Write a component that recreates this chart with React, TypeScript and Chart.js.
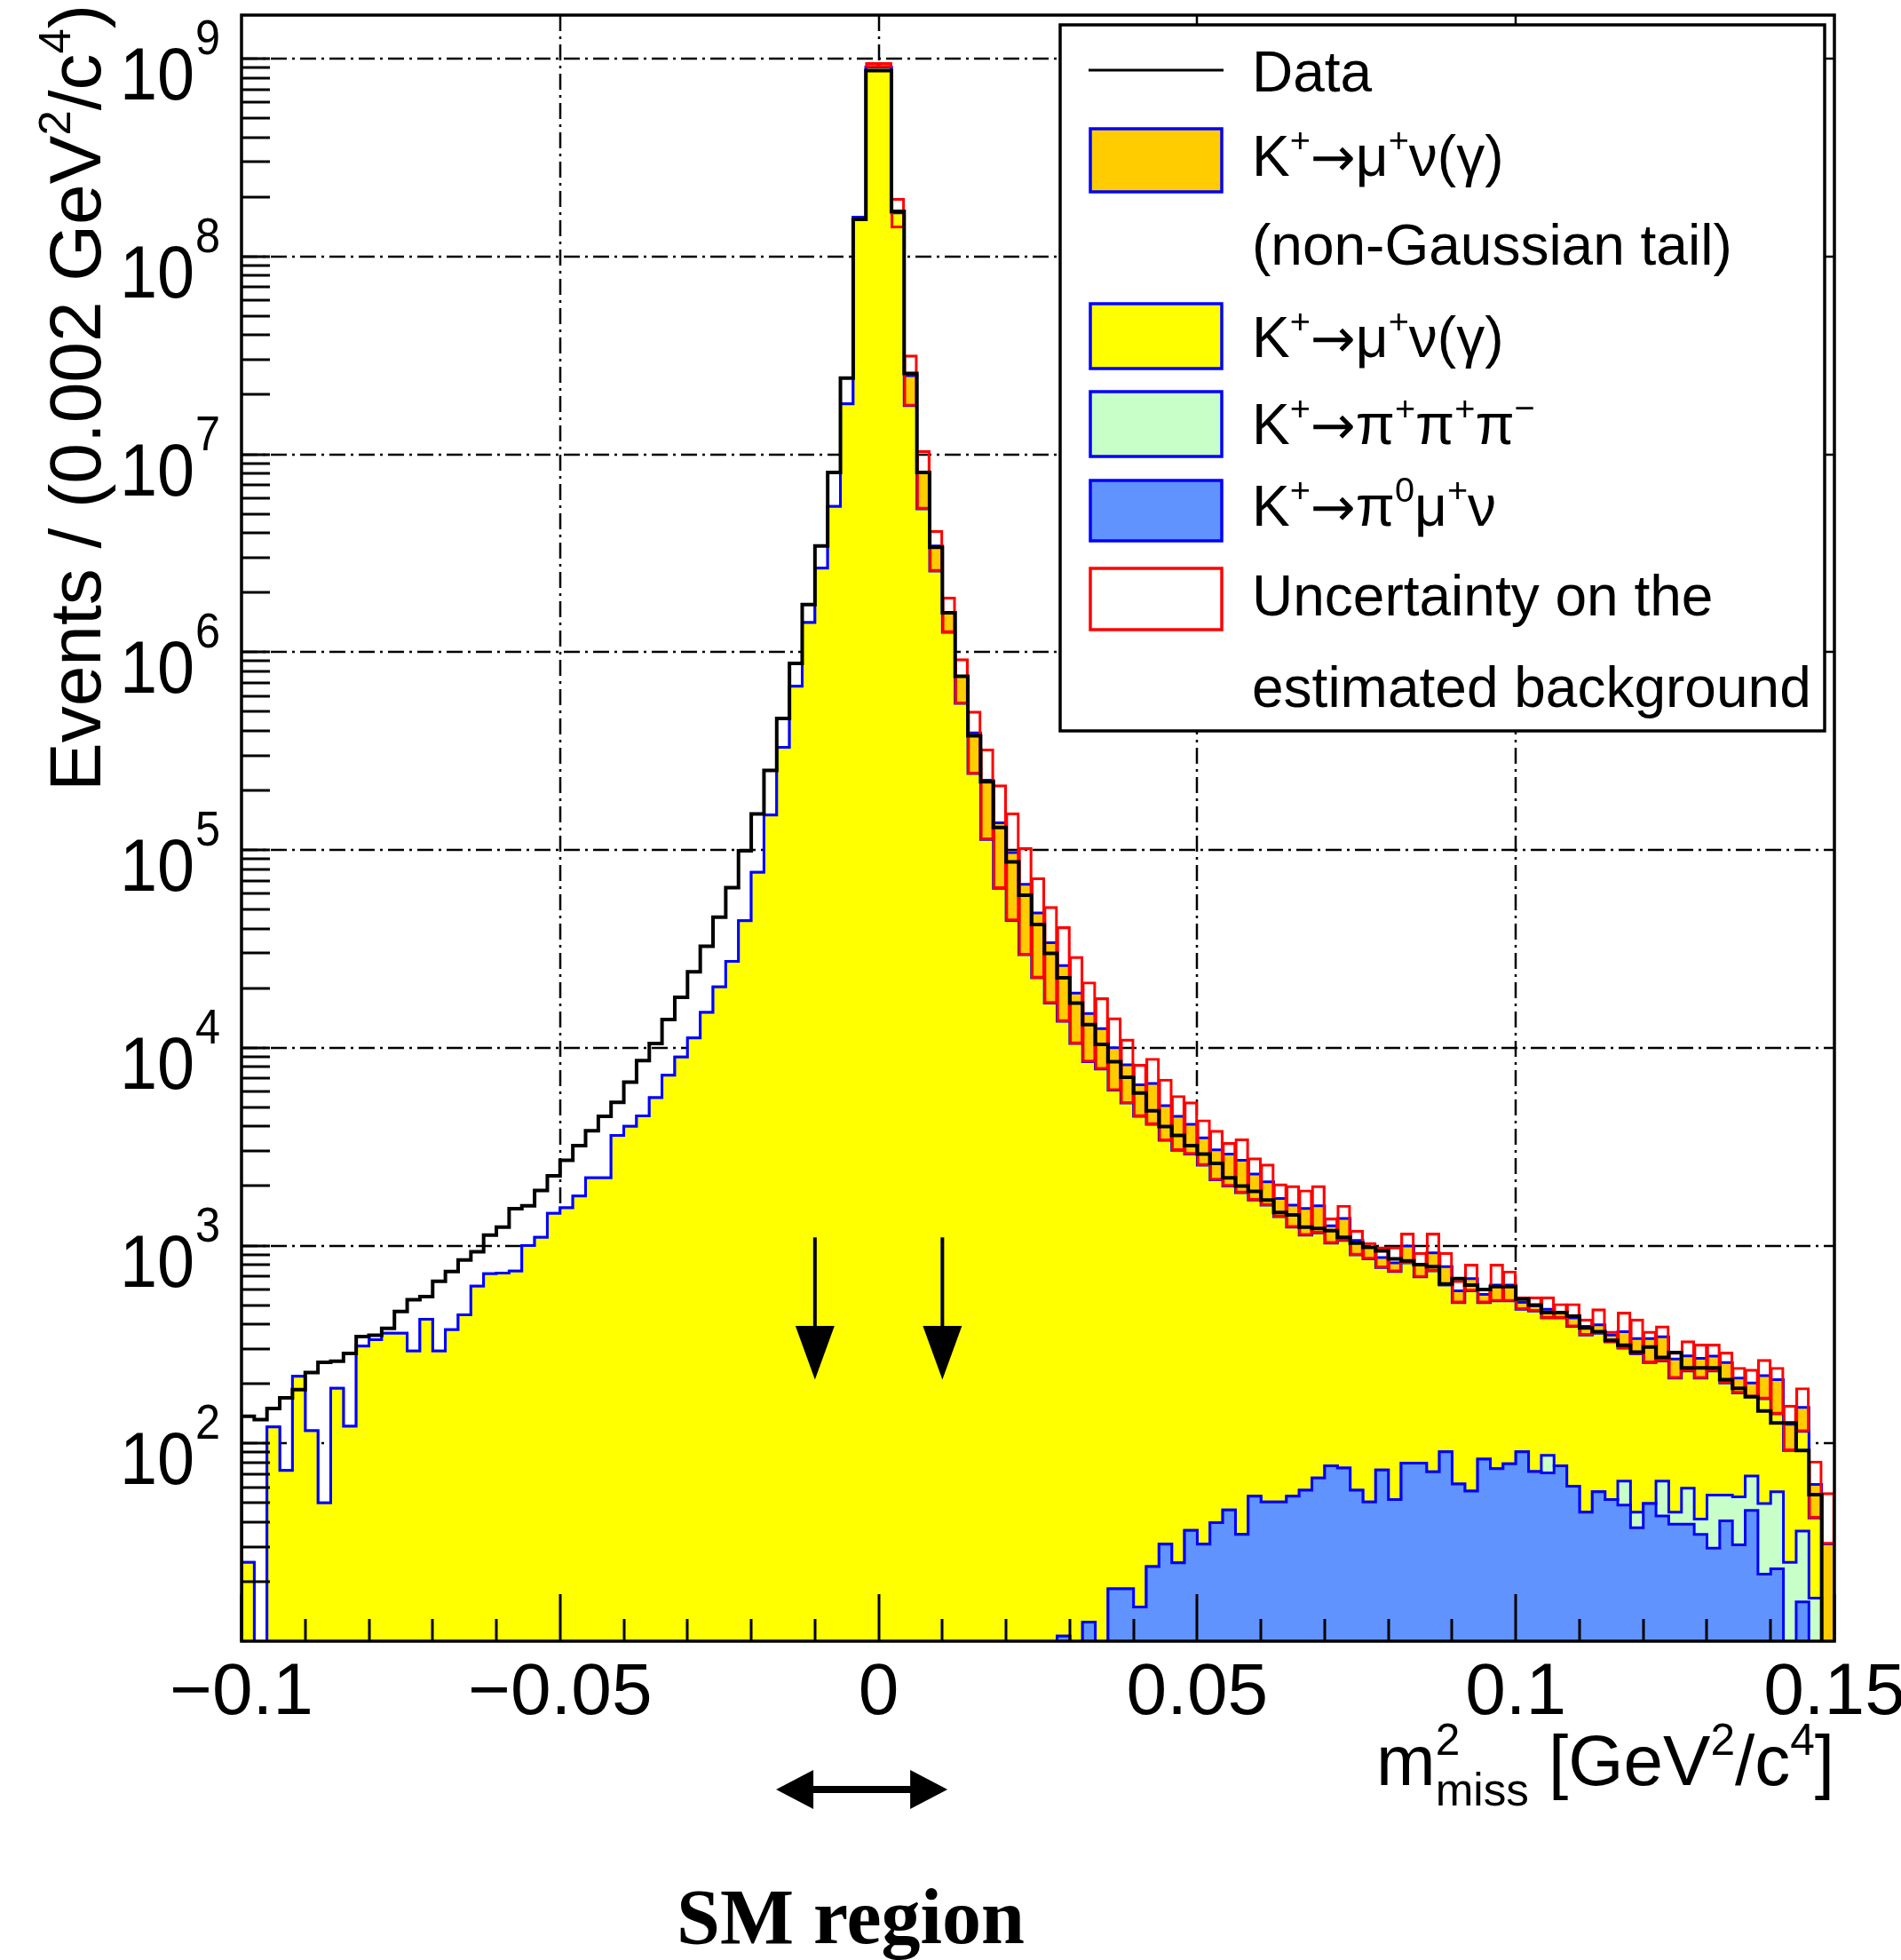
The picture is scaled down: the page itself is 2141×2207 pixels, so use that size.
import React, { useEffect, useRef } from 'react';
import { Chart, registerables } from 'chart.js';

Chart.register(...registerables);

// ---------------- axis definition ----------------
const X_MIN = -0.1;
const X_MAX = 0.15;
const BIN_WIDTH = 0.002;
const Y_MIN = 10;
const Y_MAX = 1.66e9;
const FLOOR = 1; // value used for empty bins (below the axis minimum)

const xTickValues = [-0.1, -0.05, 0, 0.05, 0.1, 0.15];
const xTickLabels = ['\u22120.1', '\u22120.05', '0', '0.05', '0.1', '0.15'];
const xGridValues = [-0.05, 0, 0.05, 0.1];
const yDecades = [2, 3, 4, 5, 6, 7, 8, 9];

// ---------------- histogram contents (125 bins of 0.002 GeV^2/c^4) ----------------
const dataCounts = [
  137, 132, 150, 170, 187, 228, 257, 260, 285, 347,
  352, 381, 464, 533, 552, 660, 740, 846, 930, 1130,
  1240, 1535, 1590, 1900, 2250, 2700, 3200, 3800, 4500, 5300,
  6700, 8600, 10500, 13900, 18000, 24200, 32600, 45700, 64500, 99000,
  152000, 252000, 462000, 877000, 1.74e6, 3.44e6, 8.1e6, 2.43e7, 1.54e8, 8.7e8,
  8.7e8, 1.69e8, 2.56e7, 8.1e6, 3.39e6, 1.58e6, 7.55e5, 3.78e5, 2.21e5, 1.3e5,
  8.7e4, 5.9e4, 4.2e4, 3.0e4, 2.26e4, 1.68e4, 1.31e4, 1.04e4, 8500, 7100,
  5900, 4800, 4000, 3600, 3200, 2900, 2600, 2200, 2000, 1880,
  1700, 1470, 1430, 1240, 1220, 1190, 1100, 1030, 980, 940,
  857, 837, 800, 782, 640, 680, 631, 600, 620, 620,
  537, 500, 458, 458, 440, 383, 367, 332, 313, 289,
  307, 272, 288, 241, 241, 241, 210, 190, 172, 146,
  127, 127, 92, 55, 0,
];

// total of all simulated contributions (top of the stack)
const mcTotal = [
  25, 0, 121, 73, 218, 116, 50, 190, 122, 310,
  334, 360, 360, 293, 424, 293, 376, 447, 623, 720,
  725, 743, 1000, 1100, 1455, 1550, 1780, 2200, 2200, 3600,
  4010, 4520, 5590, 7250, 8970, 11200, 15100, 20300, 27300, 43900,
  77000, 150000, 330000, 672000, 1.41e6, 2.66e6, 5.45e6, 1.8e7, 1.58e8, 9.06e8,
  9.06e8, 1.66e8, 2.5e7, 8.1e6, 3.44e6, 1.58e6, 7.55e5, 3.9e5, 2.25e5, 1.37e5,
  9.7e4, 6.7e4, 4.8e4, 3.4e4, 2.6e4, 1.89e4, 1.49e4, 1.25e4, 1.0e4, 8200,
  6500, 6600, 5100, 4500, 4100, 3500, 3050, 2900, 2700, 2300,
  2100, 1730, 1600, 1540, 1590, 1260, 1370, 1060, 980, 870,
  818, 995, 800, 918, 782, 590, 680, 567, 631, 631,
  516, 497, 476, 458, 431, 390, 398, 353, 367, 339,
  339, 346, 267, 277, 269, 276, 256, 214, 202, 220,
  210, 125, 152, 62, 31,
];

// stack without the non-Gaussian tail (top of the yellow K -> mu nu area)
const mcNoTail = [
  25, 0, 121, 73, 218, 116, 50, 190, 122, 310,
  334, 360, 360, 293, 424, 293, 376, 447, 623, 720,
  725, 743, 1000, 1100, 1455, 1550, 1780, 2200, 2200, 3600,
  4010, 4520, 5590, 7250, 8970, 11200, 15100, 20300, 27300, 43900,
  77000, 150000, 330000, 672000, 1.41e6, 2.66e6, 5.45e6, 1.8e7, 1.58e8, 9.06e8,
  9.06e8, 1.66e8, 1.76e7, 5.3e6, 2.57e6, 1.26e6, 5.5e5, 2.43e5, 1.13e5, 6.4e4,
  4.4e4, 2.95e4, 2.26e4, 1.68e4, 1.36e4, 1.05e4, 8500, 7800, 6100, 5250,
  4500, 4100, 3400, 3030, 2900, 2550, 2150, 2000, 1850, 1700,
  1600, 1400, 1240, 1130, 1160, 1030, 1060, 898, 857, 774,
  740, 818, 694, 745, 631, 515, 590, 515, 525, 525,
  476, 467, 431, 431, 390, 353, 360, 326, 303, 283,
  256, 261, 214, 232, 214, 232, 202, 180, 172, 168,
  141, 92, 115, 42, 0,
];

// K+ -> pi0 mu+ nu
const kmu3 = [
  0, 0, 0, 0, 0, 0, 0, 0, 0, 0,
  0, 0, 0, 0, 0, 0, 0, 0, 0, 0,
  0, 0, 0, 0, 0, 0, 0, 0, 0, 0,
  0, 0, 0, 0, 0, 0, 0, 0, 0, 0,
  0, 0, 0, 0, 0, 0, 0, 0, 0, 0,
  0, 0, 0, 0, 0, 0, 0, 0, 0, 0,
  0, 0, 0, 0, 10.6, 0, 12.5, 0, 18.4, 18.4,
  14.9, 23.8, 30.9, 24.9, 36.3, 30.9, 39.8, 46, 34.7, 54,
  50.5, 50.5, 54, 58, 66.8, 77, 75, 58, 50.5, 73.4,
  52, 79.5, 79.5, 71.8, 90.7, 62.4, 57.3, 83.3, 74.5, 78.8,
  90.7, 72, 71, 77, 60.7, 44.9, 57, 52, 48.7, 37.5,
  49.6, 43, 39, 39, 34.7, 29.5, 40.6, 30.7, 45.8, 21.8,
  23.2, 0, 15.8, 0, 0,
];

// K+ -> pi+ pi+ pi-
const k3pi = [
  0, 0, 0, 0, 0, 0, 0, 0, 0, 0,
  0, 0, 0, 0, 0, 0, 0, 0, 0, 0,
  0, 0, 0, 0, 0, 0, 0, 0, 0, 0,
  0, 0, 0, 0, 0, 0, 0, 0, 0, 0,
  0, 0, 0, 0, 0, 0, 0, 0, 0, 0,
  0, 0, 0, 0, 0, 0, 0, 0, 0, 0,
  0, 0, 0, 0, 0, 0, 0, 0, 0, 0,
  0, 0, 0, 0, 0, 0, 0, 0, 0, 0,
  0, 0, 0, 0, 0, 0, 0, 0, 0, 0,
  0, 0, 0, 0, 0, 0, 0, 0, 0, 0,
  0, 0, 16, 0, 0, 0, 0, 0, 15.7, 7.4,
  0, 21.4, 5.9, 20.4, 6.7, 25.3, 14.2, 23, 22.6, 27.9,
  33.8, 25, 20.2, 16.5, 0,
];

// uncertainty band on the estimated background (null = not drawn)
const uncHigh = [
  null, null, null, null, null, null, null, null, null, null,
  null, null, null, null, null, null, null, null, null, null,
  null, null, null, null, null, null, null, null, null, null,
  null, null, null, null, null, null, null, null, null, null,
  null, null, null, null, null, null, null, null, null, 9.5e8,
  9.5e8, 1.96e8, 3.16e7, 1.04e7, 4.1e6, 1.89e6, 9.2e5, 5.0e5, 3.22e5, 2.12e5,
  1.53e5, 1.02e5, 7.2e4, 5.15e4, 4.07e4, 2.88e4, 2.14e4, 1.78e4, 1.41e4, 1.1e4,
  8200, 8800, 6900, 5700, 5300, 4300, 3800, 3300, 3450, 2760,
  2570, 2040, 2000, 1900, 2000, 1370, 1590, 1190, 1030, 980,
  980, 1150, 918, 1150, 918, 662, 800, 605, 800, 740,
  548, 548, 548, 506, 506, 423, 476, 367, 458, 423,
  367, 390, 288, 328, 316, 316, 288, 241, 236, 264,
  241, 155, 190, 81, 56,
];
const uncLow = [
  null, null, null, null, null, null, null, null, null, null,
  null, null, null, null, null, null, null, null, null, null,
  null, null, null, null, null, null, null, null, null, null,
  null, null, null, null, null, null, null, null, null, null,
  null, null, null, null, null, null, null, null, null, 9.06e8,
  9.06e8, 1.4e8, 1.76e7, 5.3e6, 2.57e6, 1.26e6, 5.5e5, 2.43e5, 1.13e5, 6.4e4,
  4.4e4, 2.95e4, 2.26e4, 1.68e4, 1.36e4, 1.05e4, 8500, 7800, 6100, 5250,
  4500, 4100, 3400, 3030, 2900, 2550, 2150, 2000, 1850, 1700,
  1600, 1400, 1240, 1130, 1160, 1030, 1060, 898, 857, 774,
  740, 818, 694, 745, 631, 515, 590, 515, 525, 525,
  476, 467, 431, 431, 390, 353, 360, 326, 303, 283,
  256, 261, 214, 232, 214, 232, 202, 180, 172, 168,
  141, 92, 115, 42, 31,
];

// annotations (in data units)
const smArrowX = [-0.01, 0.01];
const smArrowTop = 1100;
const smArrowHeadBase = 392;
const smArrowTip = 210;
const smRange = [-0.0161, 0.0108];

// ---------------- colours ----------------
const COL_TAIL = '#ffcc00';
const COL_KMU2 = '#ffff00';
const COL_K3PI = '#c8ffc8';
const COL_KMU3 = '#6193ff';
const COL_OUTLINE = '#0000ff';
const COL_UNC = '#ff0000';

const SANS = "'Liberation Sans', Arial, Helvetica, sans-serif";
const ARROWFONT = "'DejaVu Sans', 'Liberation Sans', sans-serif";
const SERIF = "'Liberation Serif', 'Times New Roman', serif";

type Part = { t: string; k?: 'sup' | 'sub'; adv?: boolean; f?: string; s?: number };

const ARROW: Part = { t: '\u2192', f: ARROWFONT, s: 0.95 };

const legendRows: { parts: Part[]; baseline: number }[] = [
  { parts: [{ t: 'Data' }], baseline: 103 },
  { parts: [{ t: 'K' }, { t: '+', k: 'sup' }, ARROW, { t: '\u03bc' }, { t: '+', k: 'sup' }, { t: '\u03bd(\u03b3)' }], baseline: 198 },
  { parts: [{ t: '(non-Gaussian tail)' }], baseline: 298 },
  { parts: [{ t: 'K' }, { t: '+', k: 'sup' }, ARROW, { t: '\u03bc' }, { t: '+', k: 'sup' }, { t: '\u03bd(\u03b3)' }], baseline: 402 },
  { parts: [{ t: 'K' }, { t: '+', k: 'sup' }, ARROW, { t: '\u03c0' }, { t: '+', k: 'sup' }, { t: '\u03c0' }, { t: '+', k: 'sup' }, { t: '\u03c0' }, { t: '\u2212', k: 'sup' }], baseline: 500 },
  { parts: [{ t: 'K' }, { t: '+', k: 'sup' }, ARROW, { t: '\u03c0' }, { t: '0', k: 'sup' }, { t: '\u03bc' }, { t: '+', k: 'sup' }, { t: '\u03bd' }], baseline: 592 },
  { parts: [{ t: 'Uncertainty on the' }], baseline: 693 },
  { parts: [{ t: 'estimated background' }], baseline: 796 },
];
const legendSwatches = [
  { top: 145, bottom: 216, fill: COL_TAIL, stroke: COL_OUTLINE },
  { top: 342, bottom: 415, fill: COL_KMU2, stroke: COL_OUTLINE },
  { top: 441, bottom: 514, fill: COL_K3PI, stroke: COL_OUTLINE },
  { top: 541, bottom: 609, fill: COL_KMU3, stroke: COL_OUTLINE },
  { top: 640, bottom: 709, fill: '#ffffff', stroke: COL_UNC },
];

const yTitle: Part[] = [{ t: 'Events / (0.002 GeV' }, { t: '2', k: 'sup' }, { t: '/c' }, { t: '4', k: 'sup' }, { t: ')' }];
const xTitle: Part[] = [
  { t: 'm' }, { t: '2', k: 'sup', adv: false }, { t: 'miss', k: 'sub' },
  { t: ' [GeV' }, { t: '2', k: 'sup' }, { t: '/c' }, { t: '4', k: 'sup' }, { t: ']' },
];

// ---------------- helpers ----------------
const N_BINS = dataCounts.length;
const binEdges = Array.from({ length: N_BINS + 1 }, (_, i) => X_MIN + i * BIN_WIDTH);

function stepPoints(values: number[]) {
  const pts: { x: number; y: number }[] = [{ x: binEdges[0], y: FLOOR }];
  values.forEach((v, i) => pts.push({ x: binEdges[i], y: v > 0 ? v : FLOOR }));
  const last = values[values.length - 1];
  pts.push({ x: binEdges[values.length], y: last > 0 ? last : FLOOR });
  pts.push({ x: binEdges[values.length], y: FLOOR });
  return pts;
}

function partSize(p: Part, size: number) {
  const base = p.k === 'sup' ? size * 0.62 : p.k === 'sub' ? size * 0.64 : size;
  return base * (p.s || 1);
}
function partDy(p: Part, size: number) {
  return p.k === 'sup' ? -size * 0.42 : p.k === 'sub' ? size * 0.29 : 0;
}
function measureParts(ctx: CanvasRenderingContext2D, parts: Part[], size: number, family: string) {
  let w = 0;
  for (const p of parts) {
    ctx.font = `${partSize(p, size)}px ${p.f || family}`;
    if (p.adv !== false) w += ctx.measureText(p.t).width;
  }
  return w;
}
function drawParts(ctx: CanvasRenderingContext2D, parts: Part[], x: number, y: number, size: number, family: string, align: 'left' | 'right' | 'center') {
  const total = measureParts(ctx, parts, size, family);
  let cx = align === 'right' ? x - total : align === 'center' ? x - total / 2 : x;
  ctx.textAlign = 'left';
  ctx.textBaseline = 'alphabetic';
  for (const p of parts) {
    ctx.font = `${partSize(p, size)}px ${p.f || family}`;
    ctx.fillText(p.t, cx, y + partDy(p, size));
    if (p.adv !== false) cx += ctx.measureText(p.t).width;
  }
}

const rootStyle = {
  id: 'rootStyle',
  beforeDraw(chart: any) {
    const ctx = chart.ctx;
    ctx.save();
    ctx.fillStyle = '#ffffff';
    ctx.fillRect(0, 0, chart.width, chart.height);
    ctx.restore();
  },
  beforeDatasetsDraw(chart: any) {
    const { ctx, chartArea: a } = chart;
    const xs = chart.scales.x;
    const ys = chart.scales.y;
    ctx.save();
    ctx.beginPath();
    ctx.rect(a.left, a.top, a.right - a.left, a.bottom - a.top);
    ctx.clip();
    ctx.setLineDash([18, 6, 3, 6]);
    ctx.lineWidth = 2.5;
    ctx.strokeStyle = '#000';
    ctx.beginPath();
    for (const n of yDecades) {
      const y = Math.round(ys.getPixelForValue(Math.pow(10, n)));
      ctx.moveTo(a.left, y);
      ctx.lineTo(a.right, y);
    }
    for (const v of xGridValues) {
      const x = Math.round(xs.getPixelForValue(v));
      ctx.moveTo(x, a.top);
      ctx.lineTo(x, a.bottom);
    }
    ctx.stroke();
    ctx.restore();
  },
  afterDatasetsDraw(chart: any) {
    const { ctx, chartArea: a } = chart;
    const xs = chart.scales.x;
    const ys = chart.scales.y;
    ctx.save();
    ctx.fillStyle = '#000';
    ctx.strokeStyle = '#000';

    // signal-region arrows
    for (const v of smArrowX) {
      const px = xs.getPixelForValue(v);
      const y0 = ys.getPixelForValue(smArrowTop);
      const y1 = ys.getPixelForValue(smArrowHeadBase);
      const y2 = ys.getPixelForValue(smArrowTip);
      ctx.lineWidth = 4;
      ctx.beginPath();
      ctx.moveTo(px, y0);
      ctx.lineTo(px, y1 + 2);
      ctx.stroke();
      ctx.beginPath();
      ctx.moveTo(px - 22, y1);
      ctx.lineTo(px + 22, y1);
      ctx.lineTo(px, y2);
      ctx.closePath();
      ctx.fill();
    }

    // frame
    ctx.lineWidth = 3.5;
    ctx.strokeRect(a.left, a.top, a.right - a.left, a.bottom - a.top);

    // x ticks
    ctx.lineWidth = 3;
    ctx.beginPath();
    for (let k = -10; k <= 15; k++) {
      const px = Math.round(xs.getPixelForValue(k / 100));
      const len = k % 5 === 0 ? 53 : 25;
      ctx.moveTo(px, a.bottom);
      ctx.lineTo(px, a.bottom - len);
    }
    // y ticks
    for (let n = 1; n <= 9; n++) {
      for (let m = 1; m <= 9; m++) {
        const v = m * Math.pow(10, n);
        if (v <= Y_MIN * 1.01 || v >= Y_MAX) continue;
        const py = Math.round(ys.getPixelForValue(v));
        ctx.moveTo(a.left, py);
        ctx.lineTo(a.left + 32, py);
      }
    }
    ctx.stroke();

    // x tick labels
    ctx.font = `82px ${SANS}`;
    ctx.textAlign = 'center';
    ctx.textBaseline = 'alphabetic';
    xTickValues.forEach((v, i) => {
      ctx.fillText(xTickLabels[i], xs.getPixelForValue(v), 1930);
    });

    // y tick labels: 10^n
    for (const n of yDecades) {
      const py = ys.getPixelForValue(Math.pow(10, n));
      ctx.save();
      ctx.translate(248, py);
      ctx.scale(0.9, 1);
      ctx.textAlign = 'right';
      ctx.font = `56px ${SANS}`;
      const exp = String(n);
      const we = ctx.measureText(exp).width;
      ctx.fillText(exp, 0, -5);
      ctx.font = `84px ${SANS}`;
      ctx.fillText('10', -we - 1, 46);
      ctx.restore();
    }

    // axis titles
    drawParts(ctx, xTitle, a.right, 2010, 80, SANS, 'right');
    ctx.save();
    ctx.translate(113, 891);
    ctx.rotate(-Math.PI / 2);
    drawParts(ctx, yTitle, 0, 0, 82, SANS, 'left');
    ctx.restore();

    // legend
    const L = { left: 1194, top: 28, right: 2055, bottom: 823 };
    ctx.fillStyle = '#ffffff';
    ctx.fillRect(L.left, L.top, L.right - L.left, L.bottom - L.top);
    ctx.lineWidth = 3.5;
    ctx.strokeStyle = '#000';
    ctx.strokeRect(L.left, L.top, L.right - L.left, L.bottom - L.top);
    ctx.lineWidth = 3;
    ctx.beginPath();
    ctx.moveTo(1226, 79);
    ctx.lineTo(1378, 79);
    ctx.stroke();
    for (const s of legendSwatches) {
      ctx.fillStyle = s.fill;
      ctx.fillRect(1228, s.top, 148, s.bottom - s.top);
      ctx.strokeStyle = s.stroke;
      ctx.lineWidth = 3.5;
      ctx.strokeRect(1228, s.top, 148, s.bottom - s.top);
    }
    ctx.fillStyle = '#000';
    for (const r of legendRows) drawParts(ctx, r.parts, 1410, r.baseline, 64, SANS, 'left');

    // SM region annotation below the axis
    const xa = xs.getPixelForValue(smRange[0]);
    const xb = xs.getPixelForValue(smRange[1]);
    const ya = 2015;
    ctx.fillStyle = '#000';
    ctx.strokeStyle = '#000';
    ctx.lineWidth = 8;
    ctx.beginPath();
    ctx.moveTo(xa + 30, ya);
    ctx.lineTo(xb - 30, ya);
    ctx.stroke();
    ctx.beginPath();
    ctx.moveTo(xa, ya);
    ctx.lineTo(xa + 42, ya - 22);
    ctx.lineTo(xa + 42, ya + 22);
    ctx.closePath();
    ctx.fill();
    ctx.beginPath();
    ctx.moveTo(xb, ya);
    ctx.lineTo(xb - 42, ya - 22);
    ctx.lineTo(xb - 42, ya + 22);
    ctx.closePath();
    ctx.fill();
    ctx.font = `bold 88px ${SERIF}`;
    ctx.textAlign = 'center';
    ctx.textBaseline = 'alphabetic';
    ctx.fillText('SM region', 958, 2188);

    ctx.restore();
  },
};

export default function App() {
  const ref = useRef<HTMLCanvasElement | null>(null);

  useEffect(() => {
    document.body.style.margin = '0';
    const canvas = ref.current;
    if (!canvas) return;

    const greenTop = kmu3.map((v, i) => v + k3pi[i]);
    const uncBoxes: any[] = [];
    uncHigh.forEach((h, i) => {
      const lo = uncLow[i];
      if (h == null || lo == null) return;
      uncBoxes.push({ x: binEdges[i] + BIN_WIDTH / 2, y: [lo, h] });
    });

    const stackLine = (values: number[], color: string, label: string) => ({
      type: 'line',
      label,
      data: stepPoints(values),
      stepped: 'before',
      borderColor: COL_OUTLINE,
      borderWidth: 3,
      backgroundColor: color,
      fill: 'origin',
      pointRadius: 0,
      tension: 0,
    });

    const chart = new Chart(canvas, {
      type: 'line',
      data: {
        datasets: [
          {
            type: 'line',
            label: 'Data',
            data: stepPoints(dataCounts),
            stepped: 'before',
            borderColor: '#000000',
            borderWidth: 4,
            fill: false,
            pointRadius: 0,
            tension: 0,
          },
          {
            type: 'bar',
            label: 'Uncertainty on the estimated background',
            data: uncBoxes,
            borderColor: COL_UNC,
            borderWidth: 1.2,
            inflateAmount: 1,
            backgroundColor: 'rgba(0,0,0,0)',
            borderSkipped: false,
            barPercentage: 1,
            categoryPercentage: 1,
          },
          stackLine(kmu3, COL_KMU3, 'K+ -> pi0 mu+ nu'),
          stackLine(greenTop, COL_K3PI, 'K+ -> pi+ pi+ pi-'),
          stackLine(mcNoTail, COL_KMU2, 'K+ -> mu+ nu (gamma)'),
          stackLine(mcTotal, COL_TAIL, 'K+ -> mu+ nu (gamma) (non-Gaussian tail)'),
        ] as any,
      },
      options: {
        responsive: false,
        animation: false,
        devicePixelRatio: 1,
        layout: { padding: { left: 272, right: 75, top: 17, bottom: 359 } },
        plugins: { legend: { display: false }, tooltip: { enabled: false } },
        scales: {
          x: { type: 'linear', min: X_MIN, max: X_MAX, display: false, offset: false, grid: { offset: false } },
          y: { type: 'logarithmic', min: Y_MIN, max: Y_MAX, display: false, beginAtZero: false },
        },
      } as any,
      plugins: [rootStyle as any],
    });

    return () => chart.destroy();
  }, []);

  return (
    <div style={{ position: 'absolute', left: 0, top: 0, width: 2141, height: 2207, background: '#fff', overflow: 'hidden' }}>
      <canvas ref={ref} width={2141} height={2207} style={{ display: 'block' }} />
    </div>
  );
}
